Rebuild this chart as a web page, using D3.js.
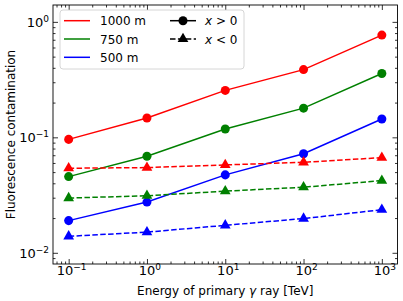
<!DOCTYPE html>
<meta charset="utf-8">
<body style="margin:0;background:#fff"><div id="chart"></div>
<script src="https://cdn.jsdelivr.net/npm/d3@7/dist/d3.min.js"></script>
<script>
// data
var energies = [0.1, 1, 10, 100, 1000];
var heights = ["1000 m", "750 m", "500 m"];
var colors = ["#ff0000", "#008000", "#0000ff"];
var posRed = [0.096, 0.147, 0.255, 0.386, 0.768];
var posGreen = [0.0457, 0.0685, 0.118, 0.179, 0.357];
var posBlue = [0.019, 0.0275, 0.0473, 0.0721, 0.144];
var negRed = [0.054, 0.0547, 0.0577, 0.0608, 0.0667];
var negGreen = [0.0298, 0.0312, 0.0342, 0.037, 0.0422];
var negBlue = [0.0139, 0.0151, 0.0173, 0.0198, 0.0236];
var xTicks = [0.1, 1, 10, 100, 1000];
var yTicks = [0.01, 0.1, 1];

var W = 403, H = 301;
var margin = {top: 5, right: 5.5, bottom: 37, left: 53};
var w = W - margin.left - margin.right,
    h = H - margin.top - margin.bottom;

var svg = d3.select("#chart").append("svg")
    .attr("width", W).attr("height", H)
    .style("font-family", "DejaVu Sans");
var g = svg.append("g")
    .attr("transform", "translate(" + margin.left + "," + margin.top + ")");

var x = d3.scaleLog().domain([Math.pow(10, -1.2), Math.pow(10, 3.2)]).range([0, w]);
var y = d3.scaleLog().domain([0.008, 1.4]).range([h, 0]);

// minor tick positions
function minors(lo, hi) {
  var out = [];
  for (var e = lo; e <= hi; e++)
    for (var k = 2; k <= 9; k++) out.push(k * Math.pow(10, e));
  return out;
}
var xMinor = minors(-2, 3).filter(function(v){ return v > x.domain()[0] && v < x.domain()[1]; });
var yMinor = minors(-3, 0).filter(function(v){ return v > y.domain()[0] && v < y.domain()[1]; });

function tickAxis(axis, ticks, len) {
  return axis.tickValues(ticks).tickSize(-len).tickFormat("");
}

// bottom / top
g.append("g").attr("transform", "translate(0," + h + ")")
  .call(tickAxis(d3.axisBottom(x), xTicks, 5));
g.append("g").attr("transform", "translate(0," + h + ")")
  .call(tickAxis(d3.axisBottom(x), xMinor, 2.5));
g.append("g").call(tickAxis(d3.axisTop(x), xTicks, 5));
g.append("g").call(tickAxis(d3.axisTop(x), xMinor, 2.5));
// left / right
g.append("g").call(tickAxis(d3.axisLeft(y), yTicks, 5));
g.append("g").call(tickAxis(d3.axisLeft(y), yMinor, 2.5));
g.append("g").attr("transform", "translate(" + w + ",0)")
  .call(tickAxis(d3.axisRight(y), yTicks, 5));
g.append("g").attr("transform", "translate(" + w + ",0)")
  .call(tickAxis(d3.axisRight(y), yMinor, 2.5));

g.selectAll(".domain").remove();
g.selectAll(".tick line").attr("stroke", "#000").attr("stroke-width", 0.8);

// tick labels as 10 with raised exponent
function powLabel(sel) {
  sel.append("tspan").text("10");
  sel.append("tspan").attr("dy", -5).style("font-size", "9px")
    .text(function(d){ return String(Math.round(Math.log10(d))).replace("-", "\u2212"); });
}
g.selectAll(".xlab").data(xTicks).enter().append("text")
  .attr("class", "xlab")
  .attr("x", function(d){ return x(d) + 3; }).attr("y", h + 11)
  .attr("text-anchor", "middle").style("font-size", "13px")
  .call(powLabel);
g.selectAll(".ylab").data(yTicks).enter().append("text")
  .attr("class", "ylab")
  .attr("x", -4).attr("y", function(d){ return y(d) + 5; })
  .attr("text-anchor", "end").style("font-size", "13px")
  .call(powLabel);

g.append("rect").attr("width", w).attr("height", h)
  .attr("fill", "none").attr("stroke", "#000").attr("stroke-width", 0.9);

// axis labels
svg.append("text").attr("x", margin.left + w / 2).attr("y", 295)
  .attr("text-anchor", "middle").style("font-size", "12px")
  .html("Energy of primary <tspan font-style='italic'>\u03b3</tspan> ray [TeV]");
svg.append("text")
  .attr("transform", "translate(15," + (margin.top + h / 2) + ") rotate(-90)")
  .attr("text-anchor", "middle").style("font-size", "12px")
  .text("Fluorescence contamination");

var series = [
  {vals: posRed, c: 0, dash: null, m: "circle"},
  {vals: posGreen, c: 1, dash: null, m: "circle"},
  {vals: posBlue, c: 2, dash: null, m: "circle"},
  {vals: negRed, c: 0, dash: "5.5,2.4", m: "tri"},
  {vals: negGreen, c: 1, dash: "5.5,2.4", m: "tri"},
  {vals: negBlue, c: 2, dash: "5.5,2.4", m: "tri"}
];

var line = d3.line().x(function(d, i){ return x(energies[i]); })
  .y(function(d){ return y(d); });
var circ = d3.symbol().type(d3.symbolCircle).size(64);
var tri = d3.symbol().type(d3.symbolTriangle).size(50);

series.forEach(function(s) {
  g.append("path").datum(s.vals).attr("d", line)
    .attr("fill", "none").attr("stroke", colors[s.c]).attr("stroke-width", 1.5)
    .attr("stroke-dasharray", s.dash);
  g.selectAll(null).data(s.vals).enter().append("path")
    .attr("transform", function(d, i){ return "translate(" + x(energies[i]) + "," + y(d) + ")"; })
    .attr("d", s.m === "circle" ? circ : tri)
    .attr("fill", colors[s.c]);
});

// legend
var lg = svg.append("g").attr("transform", "translate(60,10)");
lg.append("rect").attr("width", 184).attr("height", 59).attr("rx", 3)
  .attr("fill", "#fff").attr("fill-opacity", 0.8)
  .attr("stroke", "#cccccc").attr("stroke-width", 0.8);
heights.forEach(function(lbl, i) {
  var yy = 10.7 + i * 18.3;
  lg.append("line").attr("x1", 4).attr("x2", 30).attr("y1", yy).attr("y2", yy)
    .attr("stroke", colors[i]).attr("stroke-width", 1.5);
  lg.append("text").attr("x", 40).attr("y", yy + 4.5).style("font-size", "12px").text(lbl);
});
var kinds = [{lbl: "x", op: " > 0", dash: null, m: circ},
             {lbl: "x", op: " < 0", dash: "5.5,2.4", m: tri}];
kinds.forEach(function(k, i) {
  var yy = 10.7 + i * 18.3;
  lg.append("line").attr("x1", 110).attr("x2", 136).attr("y1", yy).attr("y2", yy)
    .attr("stroke", "#000").attr("stroke-width", 1.5).attr("stroke-dasharray", k.dash);
  lg.append("path").attr("transform", "translate(123," + yy + ")").attr("d", k.m).attr("fill", "#000");
  lg.append("text").attr("x", 145).attr("y", yy + 4.5).style("font-size", "12px")
    .html("<tspan font-style='italic'>" + k.lbl + "</tspan>" + k.op);
});
</script>
</body>
